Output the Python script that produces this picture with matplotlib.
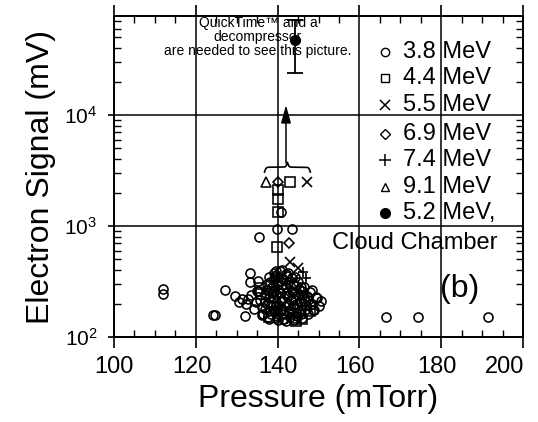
import numpy as np
import matplotlib
matplotlib.use("Agg")
import matplotlib.pyplot as plt
from matplotlib.ticker import FixedLocator, MultipleLocator, LogLocator, NullFormatter
import matplotlib.transforms as mtransforms

plt.rcParams['font.family'] = ['Liberation Sans', 'DejaVu Sans']

# ---------------- data ----------------
# 3.8 MeV (open circles)
p38 = [112.0, 112.0, 124.3, 124.6, 127.1, 132.0, 135.5, 139.9, 143.5, 140.8,
       166.5, 174.3, 191.4, 133.3, 133.3, 129.6,
       130.5, 131.2, 132.3, 132.8, 133.6, 134.2, 134.6, 135.0, 136.2, 135.2,
       135.5, 135.8, 136.2, 136.5, 137.5, 138.0, 139.0, 140.5, 142.0, 143.5,
       145.0, 146.5, 148.0, 149.5, 150.5, 150.0, 149.0, 147.5, 146.0, 144.0,
       142.0, 140.0, 138.0,
       137.0, 137.5, 138.0, 138.5, 139.0, 139.5, 139.8, 140.0, 140.5, 140.8,
       141.0, 141.3, 141.5, 142.0, 142.3, 142.5, 142.8, 143.0, 143.5, 143.8,
       144.0, 144.5, 145.0, 145.5, 145.8, 146.5, 147.0, 147.5, 148.5, 146.0,
       144.5, 139.0, 140.0, 141.5, 138.5, 137.0,
       147.9, 149.6, 148.7, 148.4, 139.4, 142.5, 139.9,
       136.8, 137.3, 137.9, 138.3, 138.8, 139.3, 139.7, 140.2, 140.7, 141.2,
       141.7, 142.2, 142.7, 143.2, 143.7, 144.2, 144.7, 145.2, 145.7, 146.2,
       146.8, 147.3, 137.6, 138.7, 139.6, 140.6, 141.6, 142.6, 143.6, 144.6,
       145.6, 146.6, 138.2, 139.2, 140.2, 141.2, 142.2, 143.2, 144.2, 145.2,
       141.0, 139.5]
v38 = [272, 245, 158, 157, 265, 155, 795, 940, 940, 1330,
       151, 151, 151, 377, 310, 232,
       205, 222, 198, 218, 240, 178, 205, 262, 158, 320,
       260, 215, 185, 160, 300, 345, 380, 395, 370, 340,
       310, 280, 255, 230, 210, 190, 175, 160, 148, 142,
       140, 142, 145,
       240, 200, 170, 275, 225, 190, 155, 300, 250, 210,
       180, 330, 160, 280, 235, 200, 170, 150, 260, 220,
       190, 165, 240, 205, 180, 225, 195, 215, 200, 260,
       290, 330, 270, 145, 160, 180,
       194, 224, 175, 265, 348, 377, 148,
       205, 265, 230, 195, 290, 175, 245, 160, 320, 270,
       190, 355, 240, 180, 300, 215, 155, 270, 160, 240,
       175, 235, 150, 250, 365, 175, 225, 310, 160, 200,
       285, 210, 310, 260, 190, 145, 250, 215, 350, 165,
       405, 390]

# 4.4 MeV (open squares)
p44 = [143.0, 140.1, 140.1, 140.1, 139.9, 135.7, 144.3, 136.0, 138.0, 141.0,
       144.5, 146.0, 148.0, 139.0]
v44 = [2490, 2110, 1750, 1336, 647, 276, 148, 245, 150, 300,
       140, 145, 170, 205]

# 5.5 MeV (crosses)
p55 = [147.2, 143.0, 145.0, 144.0]
v55 = [2490, 473, 419, 330]

# 6.9 MeV (open diamonds)
p69 = [140.1, 142.8, 144.0]
v69 = [2490, 703, 250]

# 7.4 MeV (plus)
p74 = [146.2, 147.0, 142.0]
v74 = [385, 340, 300]

# 9.1 MeV (open triangles)
p91 = [137.2, 140.0, 138.5]
v91 = [2490, 350, 230]

# 5.2 MeV, cloud chamber (filled circle with error bar)
p52 = [144.25]
v52 = [47400]
v52_lo = [23900]
v52_hi = [72000]

# lower limit arrow and brace grouping the saturated points
arrow_p = 142.05
arrow_from, arrow_to = 3700, 12300
brace_p = [136.8, 148.0]
brace_v = [3060, 3750]

xticks = [100, 120, 140, 160, 180, 200]
yticks = [1e2, 1e3, 1e4]
ytick_labels = [r'$\mathregular{10^{2}}$', r'$\mathregular{10^{3}}$', r'$\mathregular{10^{4}}$']

legend_labels = ['3.8 MeV', '4.4 MeV', '5.5 MeV', '6.9 MeV', '7.4 MeV', '9.1 MeV', '5.2 MeV,']

# ---------------- figure ----------------
fig = plt.figure(figsize=(5.38, 4.22), dpi=100)
ax = fig.add_axes([114/538, 1-337/422, (523-114)/538, (337-16)/422])
ax.set_yscale('log')
ax.set_xlim(100, 200)
ax.set_ylim(100, 78000)

ms = 6.5
mew = 1.15
ax.plot(p38, v38, 'o', ls='none', mfc='none', mec='k', ms=ms, mew=mew, zorder=3)
ax.plot(p44, v44, 's', ls='none', mfc='none', mec='k', ms=ms, mew=mew, zorder=3)
ax.plot(p55, v55, 'x', ls='none', mec='k', ms=ms+0.5, mew=1.2, zorder=3)
ax.plot(p69, v69, 'D', ls='none', mfc='none', mec='k', ms=ms-1, mew=mew, zorder=3)
ax.plot(p74, v74, '+', ls='none', mec='k', ms=ms+1, mew=1.2, zorder=3)
ax.plot(p91, v91, '^', ls='none', mfc='none', mec='k', ms=ms+0.5, mew=mew, zorder=3)

yerr = [[v52[0]-v52_lo[0]], [v52_hi[0]-v52[0]]]
ax.errorbar(p52, v52, yerr=yerr, fmt='o', color='k', ms=7, capsize=5.5,
            elinewidth=1.3, capthick=1.3, zorder=4)

# arrow
ax.annotate('', xy=(arrow_p, arrow_to), xytext=(arrow_p, arrow_from),
            arrowprops=dict(arrowstyle='-|>,head_length=0.9,head_width=0.25',
                            color='k', lw=1.1, mutation_scale=12,
                            shrinkA=0, shrinkB=0), zorder=4)

# brace
beta = 60.0
xs = np.linspace(0, 0.5, 200)
yh = 1/(1+np.exp(-beta*(xs-xs[0]))) + 1/(1+np.exp(-beta*(xs-xs[-1])))
yb = np.concatenate([yh, yh[-2::-1]]) - 0.5
xb = np.linspace(brace_p[0], brace_p[1], len(yb))
lv0, lv1 = np.log10(brace_v[0]), np.log10(brace_v[1])
ax.plot(xb, 10**(lv0 + yb*(lv1-lv0)), color='k', lw=1.2, zorder=4)

# grid and ticks
ax.xaxis.set_major_locator(FixedLocator(xticks))
ax.xaxis.set_minor_locator(MultipleLocator(5))
ax.yaxis.set_major_locator(FixedLocator(yticks))
ax.yaxis.set_minor_locator(LogLocator(base=10, subs=np.arange(2, 10)))
ax.yaxis.set_minor_formatter(NullFormatter())
ax.set_yticklabels(ytick_labels)
ax.grid(True, which='major', color='k', lw=1.1)
ax.set_axisbelow(True)
for s in ax.spines.values():
    s.set_linewidth(1.4)
ax.tick_params(axis='x', which='major', direction='out', length=8, width=1.2,
               labelsize=17, pad=6)
ax.tick_params(axis='x', which='minor', direction='in', length=5, width=1.0, top=True)
ax.tick_params(axis='y', which='major', direction='out', length=4, width=1.2,
               right=False, labelsize=15, pad=8)
ax.tick_params(axis='y', which='minor', direction='in', length=5, width=1.0, right=True)
ax.tick_params(axis='x', which='major', top=True)

# keep the last x tick label inside the figure (as in the reference)
fig.canvas.draw()
lbls = ax.get_xticklabels()
for lab in lbls:
    if lab.get_text() == '200':
        lab.set_horizontalalignment('right')
        lab.set_transform(lab.get_transform() +
                          mtransforms.ScaledTranslation(1/100, 0, fig.dpi_scale_trans))
    elif lab.get_text() in ('180', '160', '120'):
        lab.set_transform(lab.get_transform() +
                          mtransforms.ScaledTranslation(-4/100, 0, fig.dpi_scale_trans))

ax.set_xlabel('Pressure (mTorr)', fontsize=23, labelpad=4)
ax.set_ylabel('Electron Signal (mV)', fontsize=23, labelpad=6)

# legend (manual)
def ay(ypix):
    return (337 - ypix) / 321.0

lx_m = (385 - 114) / 409.0
lx_t = (403 - 114) / 409.0
ly = [52, 78, 105, 134, 160, 187, 213]
lmark = [dict(marker='o', mfc='none', ms=6), dict(marker='s', mfc='none', ms=6),
         dict(marker='x', ms=7, mew=1.1), dict(marker='D', mfc='none', ms=5.5),
         dict(marker='+', ms=8, mew=1.1), dict(marker='^', mfc='none', ms=6),
         dict(marker='o', mfc='k', ms=7)]
for lab, yp, mk in zip(legend_labels, ly, lmark):
    kw = dict(mec='k', mew=mk.pop('mew', 1.0), color='k')
    kw.update(mk)
    ax.plot([lx_m], [ay(yp)], transform=ax.transAxes, ls='none', clip_on=False, **kw)
    ax.text(lx_t, ay(yp), lab, transform=ax.transAxes, fontsize=17,
            ha='left', va='center')
ax.text((498 - 114) / 409.0, ay(243), 'Cloud Chamber', transform=ax.transAxes,
        fontsize=17, ha='right', va='center')
ax.text((460 - 114) / 409.0, ay(289), '(b)', transform=ax.transAxes,
        fontsize=23, ha='center', va='center')

# placeholder text from the original scan
fig.text(258/538, 1 - 37/422, 'QuickTime\u2122 and a\ndecompressor\nare needed to see this picture.',
         fontsize=10, ha='center', va='center', linespacing=1.0, zorder=10)

fig.savefig('out.png', dpi=100)
